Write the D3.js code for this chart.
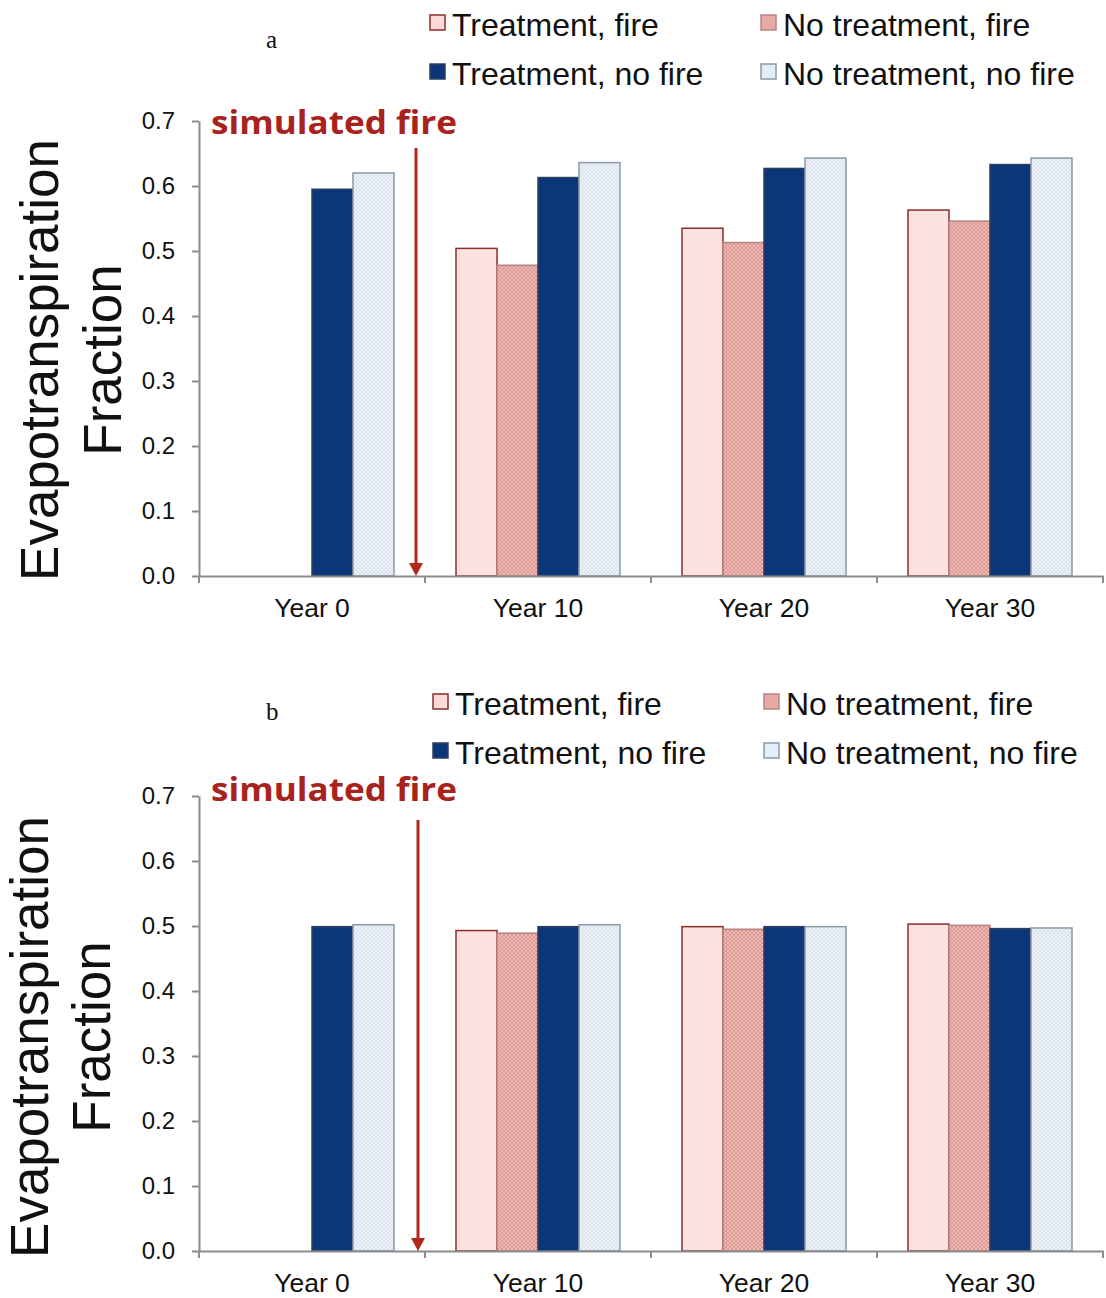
<!DOCTYPE html>
<html>
<head>
<meta charset="utf-8">
<script src="https://cdn.jsdelivr.net/npm/d3@7"></script>
<style>
  body { margin: 0; background: #fff; }
  svg { display: block; }
</style>
</head>
<body>
<div id="chart"></div>
<script>
// categories and series
var years = ["Year 0", "Year 10", "Year 20", "Year 30"];
var seriesNames = ["Treatment, fire", "No treatment, fire", "Treatment, no fire", "No treatment, no fire"];
var yTicks = [0, 0.1, 0.2, 0.3, 0.4, 0.5, 0.6, 0.7];

// panel a values, one array per series (null = no bar)
var aTreatFire   = [null, 0.504, 0.535, 0.563];
var aNoTreatFire = [null, 0.478, 0.513, 0.546];
var aTreatNo     = [0.595, 0.613, 0.627, 0.633];
var aNoTreatNo   = [0.620, 0.636, 0.643, 0.643];

// panel b values
var bTreatFire   = [null, 0.493, 0.499, 0.503];
var bNoTreatFire = [null, 0.489, 0.495, 0.501];
var bTreatNo     = [0.499, 0.499, 0.499, 0.496];
var bNoTreatNo   = [0.502, 0.502, 0.499, 0.497];

var W = 1106, H = 1298;

var svg = d3.select("#chart")
  .append("svg")
  .attr("width", W)
  .attr("height", H);

// patterns for the dotted bars
var defs = svg.append("defs");
var p1 = defs.append("pattern").attr("id", "dotPink")
  .attr("width", 4).attr("height", 4).attr("patternUnits", "userSpaceOnUse");
p1.append("rect").attr("width", 4).attr("height", 4).attr("fill", "#efbab5");
p1.append("rect").attr("width", 2).attr("height", 2).attr("fill", "#dc9893");
p1.append("rect").attr("x", 2).attr("y", 2).attr("width", 2).attr("height", 2).attr("fill", "#dc9893");

var p2 = defs.append("pattern").attr("id", "dotBlue")
  .attr("width", 4).attr("height", 4).attr("patternUnits", "userSpaceOnUse");
p2.append("rect").attr("width", 4).attr("height", 4).attr("fill", "#e9f2fb");
p2.append("rect").attr("width", 2).attr("height", 2).attr("fill", "#dde4ec");
p2.append("rect").attr("x", 2).attr("y", 2).attr("width", 2).attr("height", 2).attr("fill", "#dde4ec");

var fills   = ["#fbe1e0", "url(#dotPink)", "#0b3679", "url(#dotBlue)"];
var strokes = ["#8a2e2a", "#b58481", "#2d3f60", "#8c99a8"];
var swatchFills = ["#fbd9d6", "#e9aaa5", "#0b3679", "#e3eef9"];

function drawPanel(opts) {
  var data = years.map(function(yr, i) {
    return {
      year: yr,
      values: opts.series.map(function(s, k) { return {key: seriesNames[k], k: k, v: s[i]}; })
    };
  });

  var g = svg.append("g").attr("transform", "translate(0," + opts.top + ")");

  // Set scales
  var x = d3.scaleBand().domain(years).range([199, 1103]).padding(0);
  var xs = d3.scaleBand().domain(seriesNames).range([0, x.bandwidth()]).paddingOuter(0.756).paddingInner(0);
  var y = d3.scaleLinear().domain([0, 0.7]).range([opts.height, 0]);

  // bars
  var groups = g.selectAll(".grp").data(data).enter()
    .append("g")
    .attr("transform", function(d) { return "translate(" + x(d.year) + ",0)"; });

  groups.selectAll("rect")
    .data(function(d) { return d.values.filter(function(e) { return e.v != null; }); })
    .enter()
    .append("rect")
      .attr("x", function(d) { return xs(d.key); })
      .attr("y", function(d) { return y(d.v); })
      .attr("width", xs.bandwidth())
      .attr("height", function(d) { return opts.height - y(d.v); })
      .attr("fill", function(d) { return fills[d.k]; })
      .attr("stroke", function(d) { return strokes[d.k]; })
      .attr("stroke-width", 1.5);

  // Y axis
  var yAxis = g.append("g")
    .attr("transform", "translate(199,0)")
    .call(d3.axisLeft(y).tickValues(yTicks).tickFormat(d3.format(".1f")).tickSize(7).tickSizeOuter(0).tickPadding(17));
  yAxis.select(".domain").attr("stroke", "#8c8c8c").attr("stroke-width", 2);
  yAxis.selectAll(".tick line").attr("stroke", "#8c8c8c").attr("stroke-width", 2);
  yAxis.selectAll("text")
    .attr("font-family", "Liberation Sans, Arial, sans-serif")
    .attr("font-size", "24px")
    .attr("fill", "#111");

  // X axis
  var xAxis = g.append("g")
    .attr("transform", "translate(0," + opts.height + ")")
    .call(d3.axisBottom(x).tickSize(0).tickSizeOuter(0).tickPadding(22));
  xAxis.select(".domain").attr("stroke", "#8c8c8c").attr("stroke-width", 2);
  xAxis.selectAll("text")
    .attr("font-family", "Liberation Sans, Arial, sans-serif")
    .attr("font-size", "26.5px")
    .attr("fill", "#111");
  xAxis.selectAll(".bound")
    .data(years.map(function(d) { return x(d); }).concat([x.range()[1]]))
    .enter()
    .append("line")
      .attr("x1", function(d) { return d; })
      .attr("x2", function(d) { return d; })
      .attr("y1", 0)
      .attr("y2", 7)
      .attr("stroke", "#8c8c8c")
      .attr("stroke-width", 2);

  // Y title, two lines
  var titleLines = ["Evapotranspiration", "Fraction"];
  g.selectAll(".ytitle").data(titleLines).enter()
    .append("text")
      .attr("transform", function(d, i) {
        return "translate(" + opts.titleX[i] + "," + opts.titleY + ") rotate(-90)";
      })
      .attr("text-anchor", "middle")
      .attr("font-family", "Liberation Sans, Arial, sans-serif")
      .attr("font-size", "53px")
      .attr("fill", "#111")
      .text(function(d) { return d; });

  // simulated fire annotation
  g.append("text")
    .attr("x", 211)
    .attr("y", opts.fireTextY)
    .attr("font-family", "Open Sans, sans-serif")
    .attr("font-weight", "bold")
    .attr("font-size", "33px")
    .attr("textLength", 246)
    .attr("lengthAdjust", "spacingAndGlyphs")
    .attr("fill", "#a8231d")
    .text("simulated fire");

  g.append("line")
    .attr("x1", opts.arrowX).attr("x2", opts.arrowX)
    .attr("y1", opts.arrowTop).attr("y2", opts.height - 12)
    .attr("stroke", "#b3281c")
    .attr("stroke-width", 3);
  g.append("path")
    .attr("d", "M" + (opts.arrowX - 7) + "," + (opts.height - 13) + "L" + (opts.arrowX + 7) + "," + (opts.height - 13) + "L" + opts.arrowX + "," + opts.height + "Z")
    .attr("fill", "#b3281c");

  // panel letter
  g.append("text")
    .attr("x", 266)
    .attr("y", opts.letterY)
    .attr("font-family", "Liberation Serif, Times New Roman, serif")
    .attr("font-size", "25px")
    .attr("fill", "#111")
    .text(opts.letter);

  // legend
  var legendPos = [[0, 0], [1, 0], [0, 1], [1, 1]];
  var leg = g.selectAll(".leg").data(seriesNames).enter()
    .append("g")
    .attr("transform", function(d, i) {
      var c = legendPos[i][0], r = legendPos[i][1];
      return "translate(" + (opts.legendX + c * 331) + "," + (opts.legendY + r * 49) + ")";
    });
  leg.append("rect")
    .attr("x", 0).attr("y", -10)
    .attr("width", 15).attr("height", 15)
    .attr("fill", function(d, i) { return swatchFills[i]; })
    .attr("stroke", function(d, i) { return strokes[i]; })
    .attr("stroke-width", 1.5);
  leg.append("text")
    .attr("x", 22)
    .attr("y", 11)
    .attr("font-family", "Liberation Sans, Arial, sans-serif")
    .attr("font-size", "32px")
    .attr("fill", "#111")
    .text(function(d) { return d; });
}

drawPanel({
  top: 121, height: 455, letter: "a", letterY: -73,
  series: [aTreatFire, aNoTreatFire, aTreatNo, aNoTreatNo],
  titleX: [58, 121], titleY: 239, fireTextY: 13, arrowX: 416, arrowTop: 27,
  legendX: 430, legendY: -96
});

drawPanel({
  top: 796, height: 455, letter: "b", letterY: -76,
  series: [bTreatFire, bNoTreatFire, bTreatNo, bNoTreatNo],
  titleX: [48, 110], titleY: 241, fireTextY: 5, arrowX: 418, arrowTop: 24,
  legendX: 433, legendY: -92
});
</script>
</body>
</html>
